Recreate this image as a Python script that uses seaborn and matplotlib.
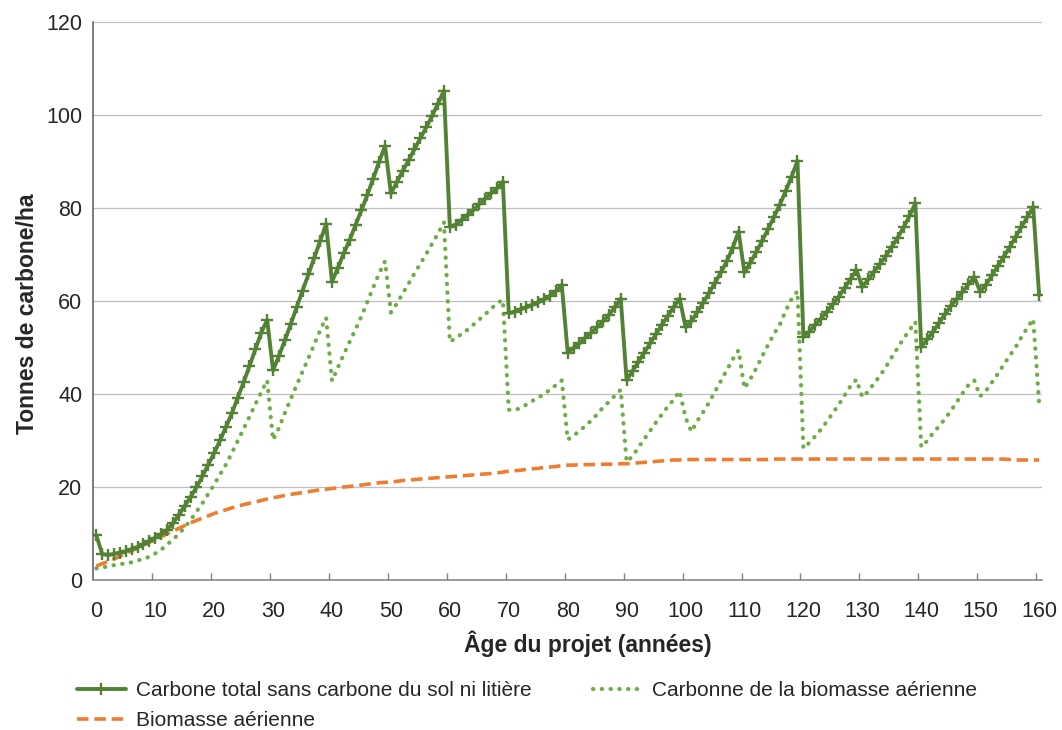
import numpy as np
import pandas as pd
import matplotlib
matplotlib.use("Agg")
import matplotlib.pyplot as plt
import seaborn as sns

# ---------------- data ----------------
years = list(range(0, 161))

total_carbon = [
    9.7, 5.7, 5.5, 5.7, 6.0, 6.3, 6.7, 7.2, 7.8, 8.5,
    9.2, 10.0, 10.9, 12.3, 14.1, 16.0, 18.0, 20.0, 22.4, 24.9,
    27.4, 30.1, 33.0, 35.9, 39.3, 42.6, 46.1, 49.7, 53.3, 56.0,
    45.2, 48.3, 51.6, 55.1, 58.7, 62.3, 65.8, 69.4, 73.0, 76.6,
    64.2, 67.2, 70.3, 73.2, 76.4, 79.6, 82.9, 86.4, 90.0, 93.4,
    83.2, 85.6, 88.0, 90.3, 92.7, 95.1, 97.4, 99.9, 102.5, 105.3,
    76.0, 76.5, 77.5, 78.6, 79.6, 80.9, 82.1, 83.2, 84.3, 85.7,
    57.4, 57.8, 58.3, 58.7, 59.3, 59.8, 60.4, 61.2, 62.2, 63.5,
    49.0, 50.0, 51.0, 52.2, 53.3, 54.5, 55.7, 57.1, 58.7, 60.6,
    43.1, 45.0, 47.0, 49.0, 51.0, 53.0, 55.0, 56.9, 58.8, 60.6,
    54.5, 55.7, 57.7, 59.7, 61.8, 64.0, 66.2, 68.6, 71.5, 75.0,
    66.2, 68.3, 70.6, 73.0, 75.5, 78.1, 80.8, 83.7, 86.8, 90.2,
    52.4, 53.5, 55.0, 56.3, 57.8, 59.4, 61.0, 62.9, 64.8, 66.7,
    63.1, 64.7, 66.4, 68.0, 69.8, 71.7, 73.7, 75.9, 78.3, 81.1,
    50.2, 51.8, 53.5, 55.3, 57.2, 59.0, 60.5, 62.0, 63.7, 65.2,
    62.1, 63.6, 65.6, 67.6, 69.6, 71.6, 73.8, 76.0, 78.1, 80.3,
    61.4,
]

biomass_carbon = [
    2.6, 2.8, 3.0, 3.3, 3.5, 3.7, 3.9, 4.3, 4.6, 5.1,
    5.8, 6.6, 7.7, 8.8, 10.0, 11.4, 13.0, 14.8, 16.6, 18.6,
    20.6, 22.8, 24.9, 27.4, 30.0, 32.6, 35.2, 37.9, 40.5, 43.0,
    30.2, 32.8, 36.0, 39.0, 42.0, 44.9, 47.8, 50.8, 53.8, 56.5,
    42.9, 45.8, 48.6, 51.3, 54.0, 56.8, 59.9, 63.0, 66.0, 68.6,
    57.6, 59.5, 61.7, 63.8, 66.0, 68.1, 70.2, 72.4, 74.6, 77.0,
    51.3, 52.1, 53.0, 53.9, 55.0, 56.1, 57.2, 58.4, 59.6, 60.3,
    36.7, 36.6, 37.1, 37.8, 38.6, 39.3, 40.1, 41.0, 42.0, 43.0,
    30.3, 31.1, 32.2, 33.2, 34.4, 35.7, 37.2, 38.4, 39.7, 41.0,
    25.5, 26.7, 28.6, 30.4, 32.2, 34.0, 35.7, 37.4, 38.9, 40.7,
    35.0, 32.0, 34.3, 36.2, 38.3, 40.6, 42.9, 45.2, 47.5, 49.5,
    41.3, 43.3, 45.6, 48.2, 50.6, 53.0, 55.0, 58.0, 60.5, 62.2,
    28.4, 29.6, 31.0, 32.5, 34.2, 36.0, 37.8, 39.8, 41.8, 43.2,
    39.4, 40.6, 42.4, 44.0, 45.9, 48.0, 50.0, 52.0, 53.8, 55.6,
    28.7, 30.0, 31.7, 33.1, 34.7, 36.4, 38.3, 40.2, 42.0, 43.0,
    39.6, 40.8, 42.6, 44.4, 46.4, 48.3, 50.1, 52.3, 54.3, 56.2,
    38.2,
]

aerial_biomass = [
    3.1, 3.6, 4.1, 4.6, 5.2, 5.8, 6.4, 7.0, 7.6, 8.2,
    8.8, 9.4, 10.0, 10.6, 11.2, 11.8, 12.4, 12.9, 13.4, 13.9,
    14.4, 14.8, 15.2, 15.6, 16.0, 16.3, 16.6, 16.9, 17.2, 17.5,
    17.8, 18.0, 18.3, 18.5, 18.7, 18.9, 19.1, 19.3, 19.5, 19.6,
    19.8, 19.9, 20.1, 20.2, 20.4, 20.5, 20.7, 20.8, 21.0, 21.1,
    21.2, 21.3, 21.5, 21.6, 21.7, 21.8, 21.9, 22.0, 22.1, 22.2,
    22.3, 22.4, 22.5, 22.6, 22.7, 22.8, 22.9, 23.0, 23.1, 23.3,
    23.5, 23.6, 23.7, 23.9, 24.0, 24.1, 24.3, 24.4, 24.5, 24.7,
    24.8, 24.8, 24.9, 24.9, 24.9, 25.0, 25.0, 25.0, 25.0, 25.1,
    25.1, 25.2, 25.3, 25.4, 25.5, 25.6, 25.7, 25.8, 25.9, 25.9,
    26.0, 26.0, 26.0, 26.0, 26.0, 26.0, 26.0, 26.0, 26.0, 26.0,
    26.0, 26.0, 26.0, 26.0, 26.0, 26.1, 26.1, 26.1, 26.1, 26.1,
    26.1, 26.1, 26.1, 26.1, 26.1, 26.1, 26.1, 26.1, 26.1, 26.1,
    26.1, 26.1, 26.1, 26.1, 26.1, 26.1, 26.1, 26.1, 26.1, 26.1,
    26.1, 26.1, 26.1, 26.1, 26.1, 26.1, 26.1, 26.1, 26.1, 26.1,
    26.1, 26.1, 26.1, 26.1, 26.1, 26.0, 25.9, 25.9, 25.9, 25.9,
    25.9,
]

series_names = [
    "Carbone total sans carbone du sol ni litière",
    "Carbonne de la biomasse aérienne",
    "Biomasse aérienne",
]
x_ticks = [0, 10, 20, 30, 40, 50, 60, 70, 80, 90, 100, 110, 120, 130, 140, 150, 160]
x_tick_labels = ["0", "10", "20", "30", "40", "50", "60", "70", "80", "90",
                 "100", "110", "120", "130", "140", "150", "160"]
y_ticks = [0, 20, 40, 60, 80, 100, 120]
x_label = "Âge du projet (années)"
y_label = "Tonnes de carbone/ha"

# ---------------- styling ----------------
sns.set_theme(style="white")
plt.rcParams["font.family"] = ["Liberation Sans", "DejaVu Sans"]

c_total = "#548235"
c_bio = "#70AD47"
c_orange = "#ED7D31"
txt = "#262626"
fs_tick = 15.5
fs_label = 16.5
fs_leg = 15

df = pd.DataFrame({
    "annee": years,
    series_names[0]: total_carbon,
    series_names[1]: biomass_carbon,
    series_names[2]: aerial_biomass,
})

fig = plt.figure(figsize=(10.62, 7.30), dpi=100)
ax = fig.add_axes([0.0879, 0.2048, 0.8933, 0.7648])

sns.lineplot(data=df, x="annee", y=series_names[2], ax=ax, color=c_orange,
             linewidth=2.6, linestyle=(0, (3.2, 1.6)), label=series_names[2])
sns.lineplot(data=df, x="annee", y=series_names[1], ax=ax, color=c_bio,
             linewidth=3.0, linestyle=(0, (0.1, 2.0)), dash_capstyle="round",
             label=series_names[1])
sns.lineplot(data=df, x="annee", y=series_names[0], ax=ax, color=c_total,
             linewidth=2.8, marker="+", markersize=9, mew=1.7, mec=c_total,
             label=series_names[0])

ax.set_xlim(-0.5, 160.5)
ax.set_ylim(0, 120)
ax.set_xticks(x_ticks)
ax.set_xticklabels(x_tick_labels)
ax.set_xticks([t - 0.5 for t in x_ticks[1:]], minor=True)
ax.set_yticks(y_ticks)
ax.set_yticklabels([str(v) for v in y_ticks])

ax.tick_params(axis="x", which="major", length=0, pad=15, labelsize=fs_tick, labelcolor=txt)
ax.tick_params(axis="x", which="minor", direction="in", length=5, width=1,
               color="#808080", bottom=True)
ax.tick_params(axis="y", which="major", length=0, pad=8, labelsize=fs_tick, labelcolor=txt)

ax.grid(axis="y", color="#BFBFBF", linewidth=0.9)
ax.grid(axis="x", visible=False)
for side in ["top", "right"]:
    ax.spines[side].set_visible(False)
ax.spines["left"].set_color("#595959")
ax.spines["bottom"].set_color("#808080")
for side in ["left", "bottom"]:
    ax.spines[side].set_linewidth(1.1)

ax.set_xlabel(x_label, fontsize=fs_label, fontweight="bold", color=txt)
ax.set_ylabel(y_label, fontsize=fs_label, fontweight="bold", color=txt)
ax.xaxis.label.set_va("center")
ax.yaxis.label.set_va("center")
ax.xaxis.set_label_coords(0.521, -0.1137)
ax.yaxis.set_label_coords(-0.0699, 0.478)

handles, labels = ax.get_legend_handles_labels()
if ax.get_legend() is not None:
    ax.get_legend().remove()
order = [labels.index(series_names[0]), labels.index(series_names[2]),
         labels.index(series_names[1])]
fig.legend([handles[i] for i in order], [labels[i] for i in order],
           loc="upper left", bbox_to_anchor=(0.0722, 0.0672), ncol=2,
           frameon=False, fontsize=fs_leg, handlelength=2.35, handletextpad=0.48,
           columnspacing=2.95, labelspacing=0.54, borderpad=0, borderaxespad=0,
           labelcolor=txt)

fig.savefig("out.png", dpi=100)
